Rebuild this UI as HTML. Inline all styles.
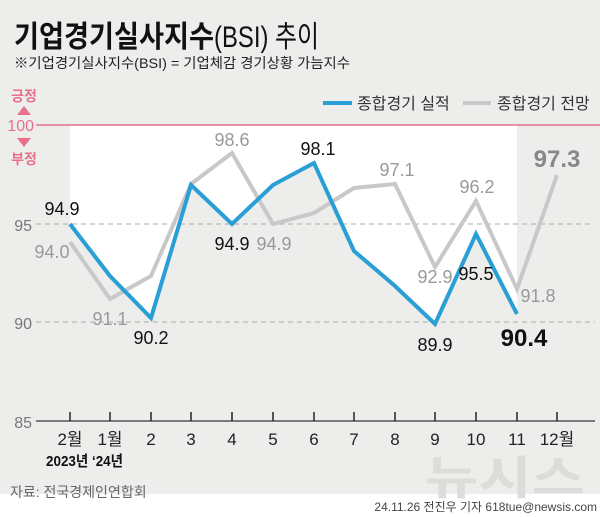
<!DOCTYPE html>
<html><head><meta charset="utf-8"><style>
html,body{margin:0;padding:0;background:#ededeb;}
svg{display:block;font-family:"Liberation Sans","Noto Sans CJK KR",sans-serif;}
</style></head><body>
<svg width="600" height="517" viewBox="0 0 600 517" xmlns="http://www.w3.org/2000/svg">
<rect width="600" height="517" fill="#ededeb"/>
<rect x="0" y="494" width="600" height="23" fill="#ffffff"/>
<polygon fill="#ffffff" points="70,125 517,125 517,314 476,234 435,324 395,286 354,251 314,163 273,185 232,224 191,185 151,318 110,276 70,224"/>
<text x="14" y="47" font-size="30" font-weight="bold" fill="#111" textLength="200" lengthAdjust="spacingAndGlyphs">기업경기실사지수</text>
<text x="214" y="47" font-size="30" fill="#111" textLength="105" lengthAdjust="spacingAndGlyphs">(BSI) 추이</text>
<text x="14" y="68" font-size="14" fill="#222" textLength="336" lengthAdjust="spacingAndGlyphs">※기업경기실사지수(BSI) = 기업체감 경기상황 가늠지수</text>
<line x1="323" y1="103" x2="352" y2="103" stroke="#2a9fd6" stroke-width="4"/>
<text x="357" y="109" font-size="16" fill="#333">종합경기 실적</text>
<line x1="463" y1="103" x2="491" y2="103" stroke="#c8c8c8" stroke-width="4"/>
<text x="497" y="109" font-size="16" fill="#333">종합경기 전망</text>
<text x="24" y="101" font-size="14" fill="#e8708a" text-anchor="middle" font-weight="bold">긍정</text>
<polygon points="17,115 31,115 24,106" fill="#e8708a"/>
<text x="34" y="131" font-size="16" fill="#e8708a" text-anchor="end">100</text>
<polygon points="17,138 31,138 24,147" fill="#e8708a"/>
<text x="24" y="164" font-size="14" fill="#e8708a" text-anchor="middle" font-weight="bold">부정</text>
<line x1="36" y1="125" x2="600" y2="125" stroke="#e8708a" stroke-width="1.5"/>
<text x="32" y="231" font-size="16" fill="#777" text-anchor="end">95</text>
<line x1="36" y1="224" x2="595" y2="224" stroke="#aaa" stroke-dasharray="5,4"/>
<text x="32" y="329" font-size="16" fill="#777" text-anchor="end">90</text>
<line x1="36" y1="322" x2="595" y2="322" stroke="#aaa" stroke-dasharray="5,4"/>
<text x="32" y="428" font-size="16" fill="#777" text-anchor="end">85</text>
<line x1="36" y1="421" x2="595" y2="421" stroke="#555" stroke-width="1.5"/>
<g stroke="#222" stroke-width="1.5">
<line x1="70" y1="412" x2="70" y2="421"/><line x1="110" y1="412" x2="110" y2="421"/><line x1="151" y1="412" x2="151" y2="421"/><line x1="191" y1="412" x2="191" y2="421"/><line x1="232" y1="412" x2="232" y2="421"/><line x1="273" y1="412" x2="273" y2="421"/><line x1="314" y1="412" x2="314" y2="421"/><line x1="354" y1="412" x2="354" y2="421"/><line x1="395" y1="412" x2="395" y2="421"/><line x1="435" y1="412" x2="435" y2="421"/><line x1="476" y1="412" x2="476" y2="421"/><line x1="517" y1="412" x2="517" y2="421"/><line x1="557" y1="412" x2="557" y2="421"/>
</g>
<g font-size="17" fill="#222" text-anchor="middle">
<text x="70" y="445">2월</text><text x="110" y="445">1월</text><text x="151" y="445">2</text><text x="191" y="445">3</text><text x="232" y="445">4</text><text x="273" y="445">5</text><text x="314" y="445">6</text><text x="354" y="445">7</text><text x="395" y="445">8</text><text x="435" y="445">9</text><text x="476" y="445">10</text><text x="517" y="445">11</text><text x="557" y="445">12월</text>
</g>
<text x="46" y="466" font-size="15" font-weight="bold" fill="#111" textLength="77" lengthAdjust="spacingAndGlyphs">2023년 ‘24년</text>
<text x="10" y="497" font-size="14" fill="#666">자료: 전국경제인연합회</text>
<text x="425" y="494" font-size="46" font-weight="bold" fill="#dcdcda" textLength="160" lengthAdjust="spacingAndGlyphs">뉴시스</text>
<text x="597" y="511" font-size="12" fill="#444" text-anchor="end">24.11.26 전진우 기자 618tue@newsis.com</text>
<polyline fill="none" stroke="#c8c8c8" stroke-width="4" points="70,242 110,299 151,276 191,184 232,153 273,224 314,213 354,188 395,184 435,267 476,201 517,289 557,175"/>
<polyline fill="none" stroke="#2a9fd6" stroke-width="4" points="70,224 110,276 151,318 191,185 232,224 273,185 314,163 354,251 395,286 435,324 476,234 517,314"/>
<g font-size="18" fill="#111" text-anchor="middle">
<text x="62" y="215">94.9</text>
<text x="151" y="344">90.2</text>
<text x="232" y="250">94.9</text>
<text x="318" y="155">98.1</text>
<text x="435" y="351">89.9</text>
<text x="476" y="280">95.5</text>
</g>
<g font-size="18" fill="#999" text-anchor="middle">
<text x="52" y="258">94.0</text>
<text x="110" y="325">91.1</text>
<text x="232" y="146">98.6</text>
<text x="274" y="250">94.9</text>
<text x="397" y="176">97.1</text>
<text x="435" y="283">92.9</text>
<text x="477" y="193">96.2</text>
<text x="538" y="302">91.8</text>
</g>
<text x="524" y="346" font-size="24" font-weight="bold" fill="#111" text-anchor="middle">90.4</text>
<text x="557" y="167" font-size="24" font-weight="bold" fill="#888" text-anchor="middle">97.3</text>
</svg>
</body></html>
